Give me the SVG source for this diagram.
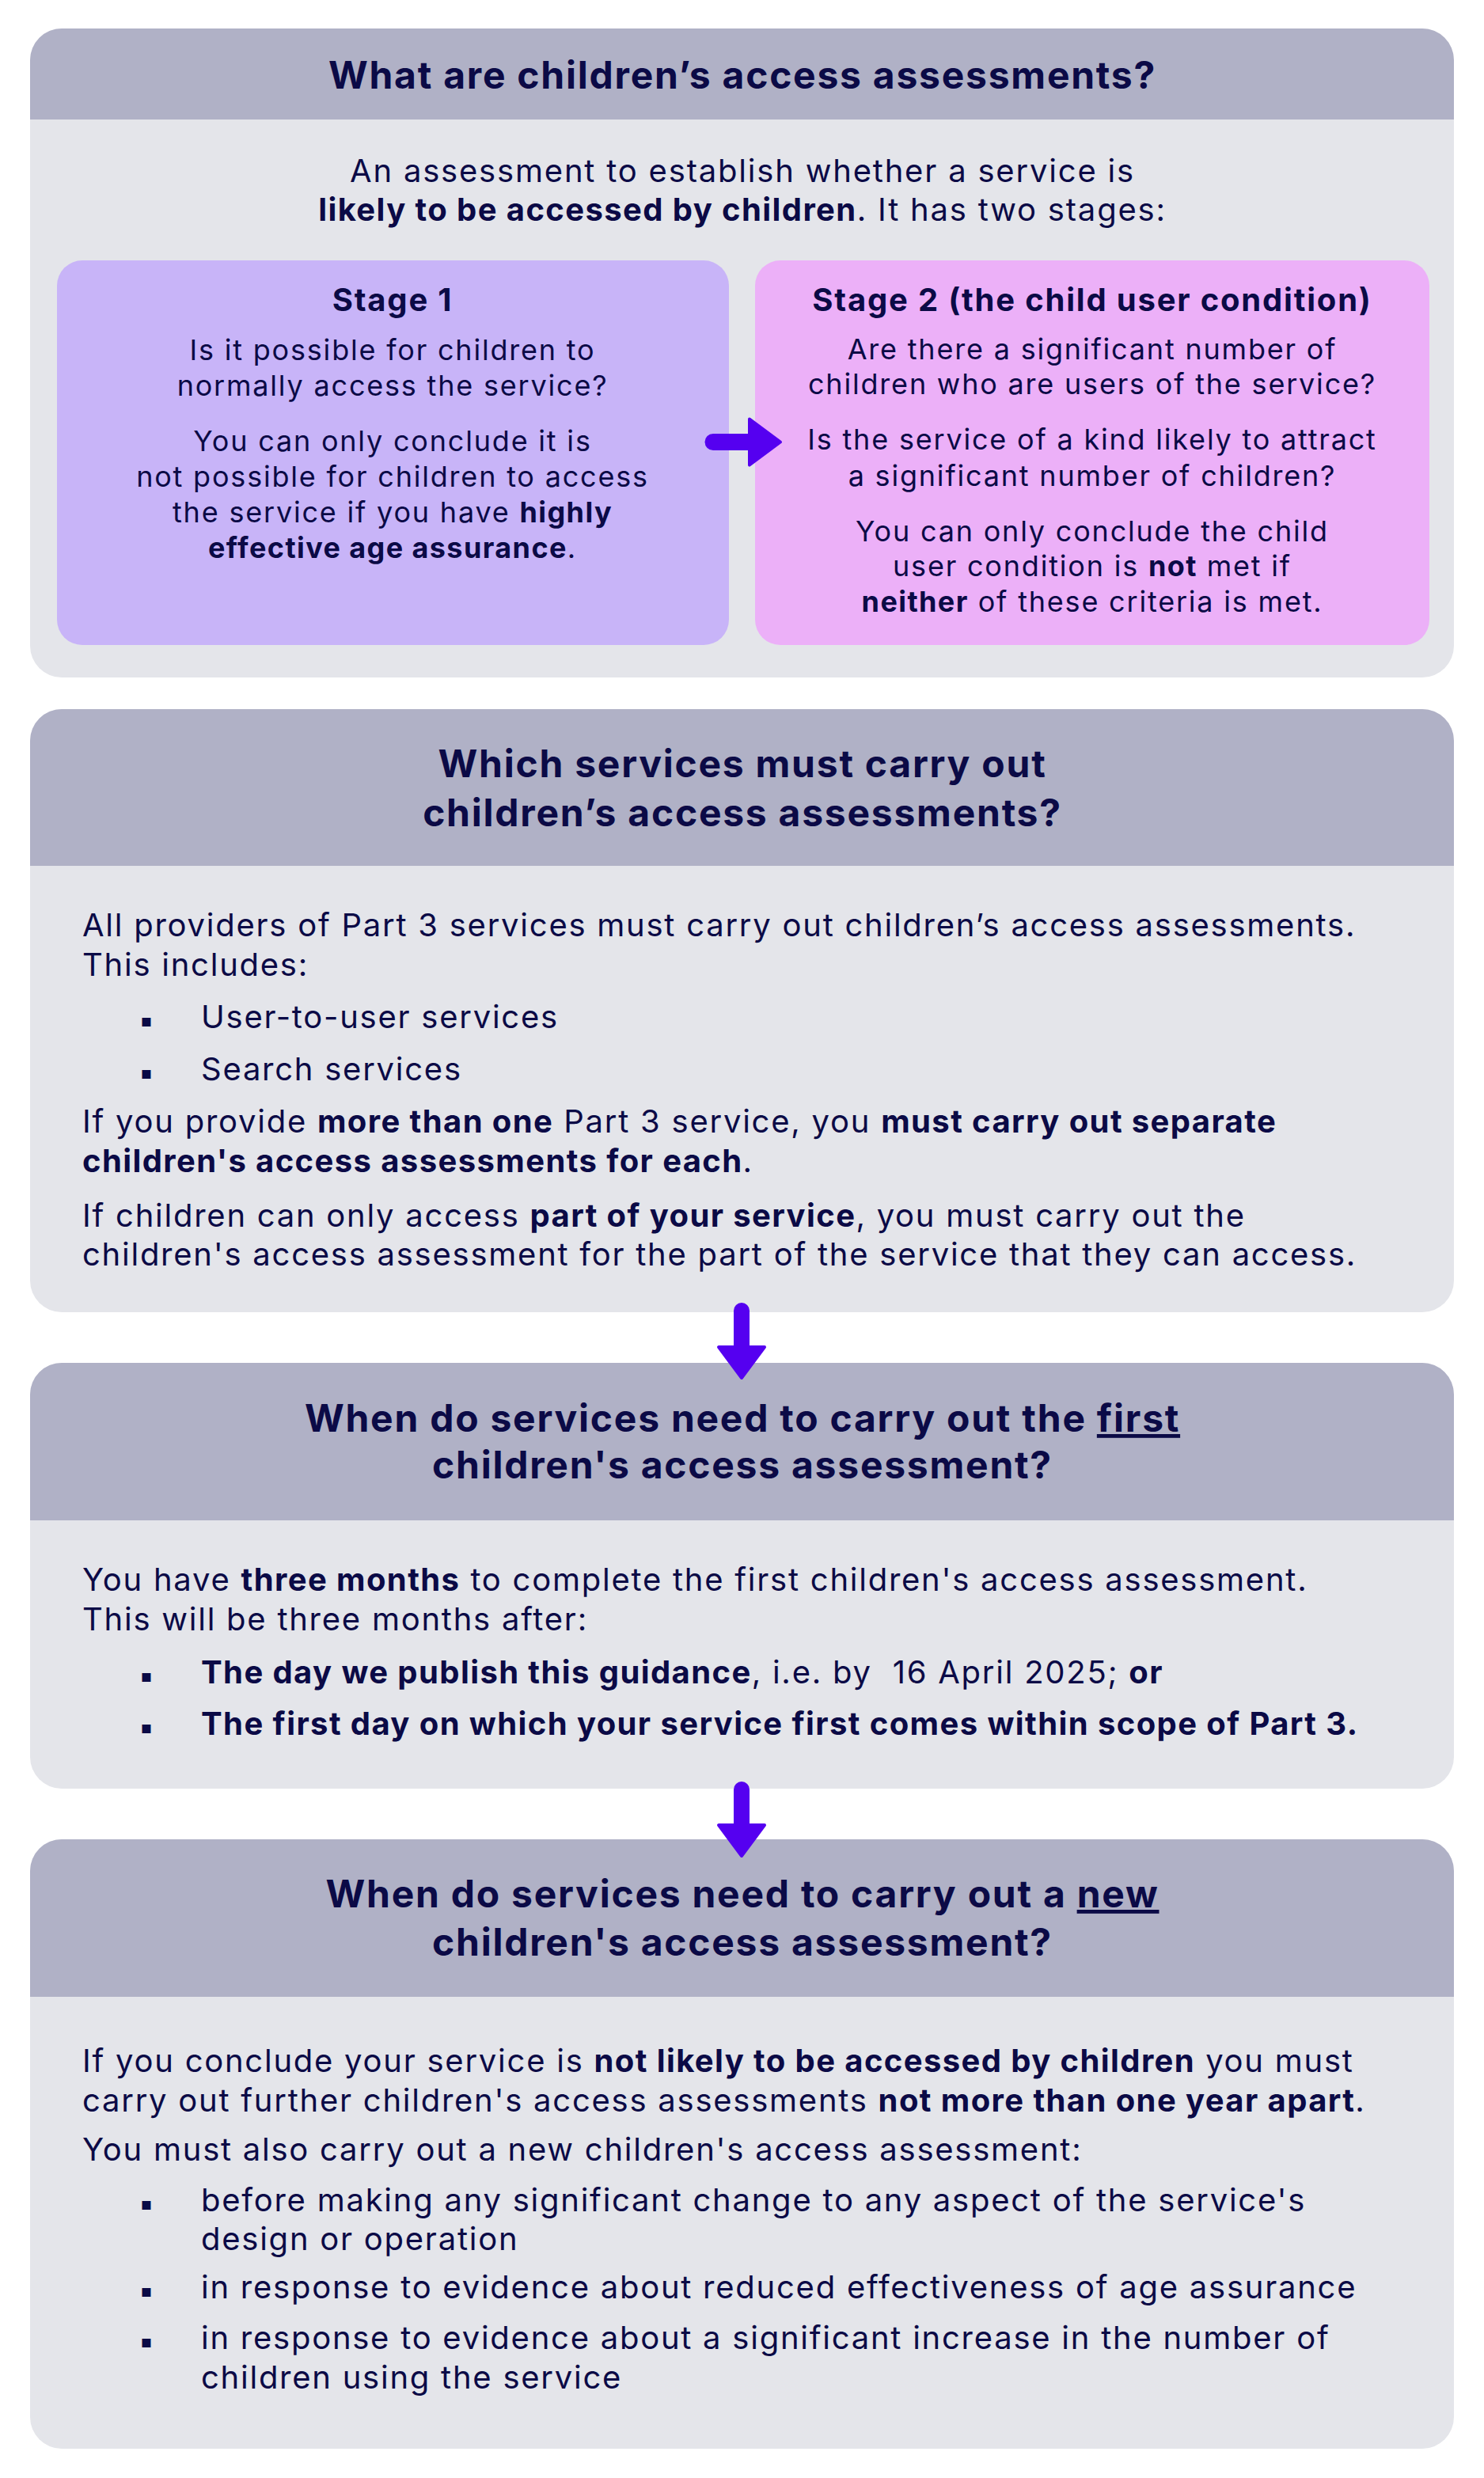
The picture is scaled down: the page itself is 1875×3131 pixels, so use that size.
<svg xmlns="http://www.w3.org/2000/svg" width="1875" height="3131" viewBox="0 0 1875 3131">
<defs>
<style>
.hdr{fill:#B0B1C6}
.bdy{fill:#E4E5EA}
.st1{fill:#C8B4F8}
.st2{fill:#ECB0F8}
text{font-family:Inter,"Noto Sans","Liberation Sans",sans-serif;fill:#0B0A46}
.ttl{font-size:48px;font-weight:700;text-anchor:middle;letter-spacing:1.75px}
.int{font-size:40px;text-anchor:middle;letter-spacing:1.8px}
.stg{font-size:36px;text-anchor:middle;letter-spacing:1.8px}
.stgh{font-size:40px;font-weight:700;text-anchor:middle;letter-spacing:1.8px}
.txt{font-size:40px;letter-spacing:1.75px}
.b{font-weight:700;letter-spacing:1.4px}
.u{text-decoration:underline}
.bul{font-size:22px;font-family:"DejaVu Sans",sans-serif;text-anchor:middle}
.conn{stroke:#5500F0;stroke-linecap:round;fill:none}
</style>
<marker id="ah" viewBox="0 0 44 64" refX="1" refY="32" markerWidth="44" markerHeight="64" markerUnits="userSpaceOnUse" orient="auto">
<path d="M2,3 L41,32 L2,61 Z" fill="#5500F0" stroke="#5500F0" stroke-width="4" stroke-linejoin="round"/>
</marker>
</defs>
<rect width="1875" height="3131" fill="#FFFFFF"/>

<g id="section1">
<rect x="38" y="36" width="1799" height="820" rx="40" class="bdy"/>
<path d="M38,151 V76 A40,40 0 0 1 78,36 H1797 A40,40 0 0 1 1837,76 V151 Z" class="hdr"/>
<text class="ttl" x="938" y="112">What are children’s access assessments?</text>
<text class="int" x="938" y="230">An assessment to establish whether a service is</text>
<text class="int" x="938" y="279"><tspan class="b">likely to be accessed by children</tspan>. It has two stages:</text>
</g>

<g id="stage1">
<rect x="72" y="329" width="849" height="486" rx="32" class="st1"/>
<text class="stgh" x="496" y="393">Stage 1</text>
<text class="stg" x="496" y="455">Is it possible for children to</text>
<text class="stg" x="496" y="500">normally access the service?</text>
<text class="stg" x="496" y="570">You can only conclude it is</text>
<text class="stg" x="496" y="615">not possible for children to access</text>
<text class="stg" x="496" y="660">the service if you have <tspan class="b">highly</tspan></text>
<text class="stg" x="496" y="705"><tspan class="b">effective age assurance</tspan>.</text>
</g>

<g id="stage2">
<rect x="954" y="329" width="852" height="486" rx="32" class="st2"/>
<text class="stgh" x="1380" y="393">Stage 2 (the child user condition)</text>
<text class="stg" x="1380" y="454">Are there a significant number of</text>
<text class="stg" x="1380" y="498">children who are users of the service?</text>
<text class="stg" x="1380" y="568">Is the service of a kind likely to attract</text>
<text class="stg" x="1380" y="614">a significant number of children?</text>
<text class="stg" x="1380" y="684">You can only conclude the child</text>
<text class="stg" x="1380" y="728">user condition is <tspan class="b">not</tspan> met if</text>
<text class="stg" x="1380" y="773"><tspan class="b">neither</tspan> of these criteria is met.</text>
</g>

<g id="section2">
<rect x="38" y="896" width="1799" height="762" rx="40" class="bdy"/>
<path d="M38,1094 V936 A40,40 0 0 1 78,896 H1797 A40,40 0 0 1 1837,936 V1094 Z" class="hdr"/>
<text class="ttl" x="938" y="982">Which services must carry out</text>
<text class="ttl" x="938" y="1044">children’s access assessments?</text>
<text class="txt" x="104" y="1183">All providers of Part 3 services must carry out children’s access assessments.</text>
<text class="txt" x="104" y="1233">This includes:</text>
<text class="bul" x="185" y="1297">▪</text>
<text class="txt" x="254" y="1299">User-to-user services</text>
<text class="bul" x="185" y="1363">▪</text>
<text class="txt" x="254" y="1365">Search services</text>
<text class="txt" x="104" y="1431">If you provide <tspan class="b">more than one</tspan> Part 3 service, you <tspan class="b">must carry out separate</tspan></text>
<text class="txt" x="104" y="1481"><tspan class="b">children's access assessments for each</tspan>.</text>
<text class="txt" x="104" y="1550">If children can only access <tspan class="b">part of your service</tspan>, you must carry out the</text>
<text class="txt" x="104" y="1599">children's access assessment for the part of the service that they can access.</text>
</g>

<g id="section3">
<rect x="38" y="1722" width="1799" height="538" rx="40" class="bdy"/>
<path d="M38,1921 V1762 A40,40 0 0 1 78,1722 H1797 A40,40 0 0 1 1837,1762 V1921 Z" class="hdr"/>
<text class="ttl" x="938" y="1809">When do services need to carry out the <tspan class="u">first</tspan></text>
<text class="ttl" x="938" y="1868">children's access assessment?</text>
<text class="txt" x="104" y="2010">You have <tspan class="b">three months</tspan> to complete the first children's access assessment.</text>
<text class="txt" x="104" y="2060">This will be three months after:</text>
<text class="bul" x="185" y="2125">▪</text>
<text class="txt" x="254" y="2127" xml:space="preserve"><tspan class="b">The day we publish this guidance</tspan>, i.e. by  16 April 2025; <tspan class="b">or</tspan></text>
<text class="bul" x="185" y="2190">▪</text>
<text class="txt b" x="254" y="2192">The first day on which your service first comes within scope of Part 3.</text>
</g>

<g id="section4">
<rect x="38" y="2324" width="1799" height="770" rx="40" class="bdy"/>
<path d="M38,2523 V2364 A40,40 0 0 1 78,2324 H1797 A40,40 0 0 1 1837,2364 V2523 Z" class="hdr"/>
<text class="ttl" x="938" y="2410">When do services need to carry out a <tspan class="u">new</tspan></text>
<text class="ttl" x="938" y="2471">children's access assessment?</text>
<text class="txt" x="104" y="2618">If you conclude your service is <tspan class="b">not likely to be accessed by children</tspan> you must</text>
<text class="txt" x="104" y="2668">carry out further children's access assessments <tspan class="b">not more than one year apart</tspan>.</text>
<text class="txt" x="104" y="2730">You must also carry out a new children's access assessment:</text>
<text class="bul" x="185" y="2792">▪</text>
<text class="txt" x="254" y="2794">before making any significant change to any aspect of the service's</text>
<text class="txt" x="254" y="2843">design or operation</text>
<text class="bul" x="185" y="2902">▪</text>
<text class="txt" x="254" y="2904">in response to evidence about reduced effectiveness of age assurance</text>
<text class="bul" x="185" y="2966">▪</text>
<text class="txt" x="254" y="2968">in response to evidence about a significant increase in the number of</text>
<text class="txt" x="254" y="3018">children using the service</text>
</g>

<g id="connectors">
<line class="conn" x1="901" y1="558.5" x2="946" y2="558.5" stroke-width="21" marker-end="url(#ah)"/>
<line class="conn" x1="937" y1="1656" x2="937" y2="1701" stroke-width="20" marker-end="url(#ah)"/>
<line class="conn" x1="937" y1="2261" x2="937" y2="2305" stroke-width="20" marker-end="url(#ah)"/>
</g>
</svg>
